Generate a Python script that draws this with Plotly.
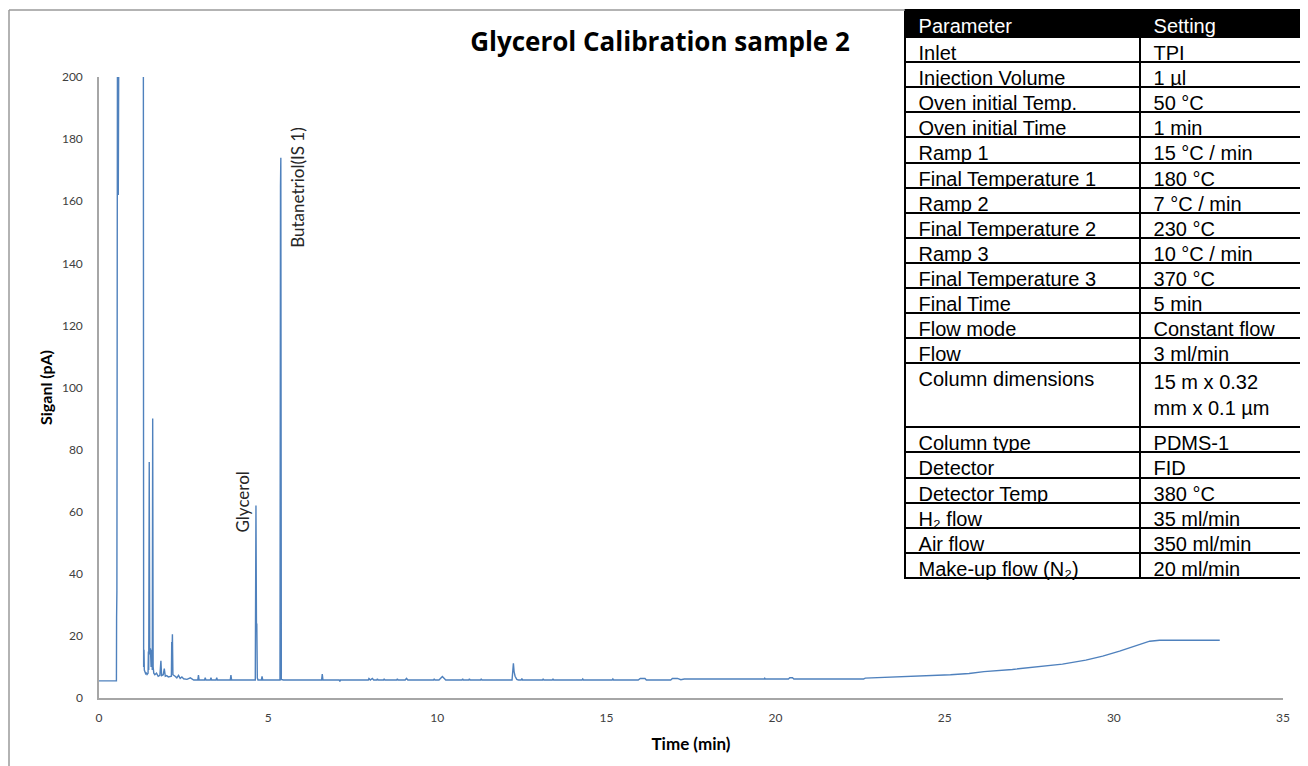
import plotly.graph_objects as go

# chromatogram (time in min, signal in pA; >200 is off-scale)
time_min = [
    0, 0.515, 0.52, 0.523, 0.526, 0.529, 0.55, 0.57, 0.59, 0.8, 1.1, 1.29,
    1.31, 1.315, 1.32, 1.33, 1.34, 1.36, 1.38, 1.40, 1.42, 1.45, 1.46, 1.47,
    1.485, 1.50, 1.52, 1.54, 1.56, 1.575, 1.587, 1.60, 1.62, 1.65, 1.70, 1.75,
    1.80, 1.83, 1.85, 1.90, 1.93, 1.96, 2.00, 2.05, 2.10, 2.14, 2.15, 2.16,
    2.17, 2.185, 2.25, 2.30, 2.35, 2.40, 2.45, 2.50, 2.60, 2.70, 2.80,
    2.92, 2.94, 2.96, 3.12, 3.14, 3.16, 3.29, 3.31, 3.33, 3.46, 3.48, 3.50,
    3.88, 3.90, 3.92, 4.62, 4.64, 4.655, 4.665, 4.68, 4.70, 4.80, 4.82, 4.84,
    5.35, 5.365, 5.375, 5.39, 5.45, 6.58, 6.60, 6.62, 7.10, 7.12, 7.14,
    7.96, 7.98, 8.02, 8.08, 8.12, 8.21, 8.23, 8.25, 8.41, 8.43, 8.45,
    8.80, 8.82, 8.84, 9.05, 9.09, 9.13, 9.89, 9.91, 9.93, 10.05, 10.15, 10.25,
    10.73, 10.75, 10.77, 10.93, 10.95, 10.97, 11.28, 11.30, 11.32,
    12.21, 12.23, 12.25, 12.27, 12.30, 12.35, 12.40, 12.48, 12.50, 12.52,
    13.11, 13.13, 13.15, 13.40, 13.42, 13.44, 14.28, 14.30, 14.32,
    15.17, 15.19, 15.21, 15.94, 16.00, 16.14, 16.18, 16.90, 16.95, 17.10,
    17.20, 17.30, 19.66, 19.68, 19.70, 20.38, 20.42, 20.50, 20.54,
    22.60, 22.65, 23.69, 24.53, 25.17, 25.72, 26.16, 27.00, 27.69, 28.48,
    29.17, 29.67, 30.17, 30.66, 31.06, 31.35, 33.13,
]
signal_pa = [
    5.5, 5.5, 26, 34, 27, 34.5, 260, 162, 300, 900, 900, 700,
    11.5, 16, 10, 15.5, 9, 8.5, 7.8, 8.0, 7.6, 8, 15, 9,
    76, 14, 16, 10, 15.5, 9, 90, 10, 8, 7.5, 8, 7,
    7.3, 12, 7.2, 7.5, 9.5, 7, 7.2, 6.8, 7, 7, 18, 15,
    20.5, 7.5, 7.0, 6.5, 7.3, 6.3, 6.8, 6.2, 6.0, 6.5, 5.8,
    5.8, 7.4, 5.8, 5.8, 6.5, 5.8, 5.8, 6.5, 5.8, 5.8, 6.5, 5.8,
    5.8, 7.4, 5.8, 5.8, 62, 22, 24, 6.5, 5.8, 5.8, 7.0, 5.8,
    5.8, 165, 174, 6, 5.8, 5.8, 7.7, 5.8, 5.8, 5.3, 5.8,
    5.8, 6.3, 5.8, 6.3, 5.8, 5.8, 6.2, 5.8, 5.8, 6.2, 5.8,
    5.8, 6.2, 5.8, 5.8, 6.3, 5.8, 5.8, 6.2, 5.8, 5.8, 6.9, 5.8,
    5.8, 6.2, 5.8, 5.8, 6.2, 5.8, 5.8, 6.2, 5.8,
    5.8, 8.0, 11.2, 8.5, 7.0, 6.0, 5.8, 5.8, 6.3, 5.8,
    5.8, 6.2, 5.8, 5.8, 6.2, 5.8, 5.8, 6.1, 5.8,
    5.8, 6.1, 5.8, 5.8, 6.3, 6.3, 5.8, 5.8, 6.3, 6.3,
    5.9, 6.1, 6.1, 6.4, 6.1, 6.1, 6.5, 6.5, 6.1,
    6.1, 6.4, 6.8, 7.2, 7.5, 7.9, 8.5, 9.2, 9.9, 10.9,
    12.2, 13.5, 15.1, 16.8, 18.3, 18.6, 18.6,
]

peak_names = ["Glycerol", "Butanetriol(IS 1)"]
peak_label_x = [4.23, 5.88]
peak_label_y = [63, 164.6]

parameters = [
    "Inlet", "Injection Volume", "Oven initial Temp.", "Oven initial Time",
    "Ramp 1", "Final Temperature 1", "Ramp 2", "Final Temperature 2",
    "Ramp 3", "Final Temperature 3", "Final Time", "Flow mode", "Flow",
    "Column dimensions", "Column type", "Detector", "Detector Temp",
    "H₂ flow", "Air flow", "Make-up flow (N₂)",
]
settings = [
    "TPI", "1 µl", "50 °C", "1 min", "15 °C / min", "180 °C", "7 °C / min",
    "230 °C", "10 °C / min", "370 °C", "5 min", "Constant flow", "3 ml/min",
    "15 m x 0.32<br>mm x 0.1 µm", "PDMS-1", "FID", "380 °C", "35 ml/min",
    "350 ml/min", "20 ml/min",
]

# the page puts the figure 8px in from the top left corner
W, H = 1300, 758
OFF = 8


def fx(px):
    return (px - OFF) / W


def fy(py):
    return 1 - (py - OFF) / H


pad = "\u00a0"  # a bit more left padding in the table cells

fig = go.Figure()

fig.add_trace(
    go.Scatter(
        x=time_min,
        y=signal_pa,
        mode="lines",
        line=dict(color="#4f81bd", width=1.4),
        showlegend=False,
        hoverinfo="x+y",
    )
)

for name, lx, ly in zip(peak_names, peak_label_x, peak_label_y):
    fig.add_annotation(
        x=lx, y=ly, text=name, textangle=-90, showarrow=False,
        font=dict(family="Lato", size=17, color="#262626"),
    )

fig.add_trace(
    go.Table(
        domain=dict(x=[fx(905), fx(1307)], y=[0, fy(10)]),
        columnwidth=[235, 167],
        header=dict(
            values=[pad + "Parameter", pad + "Setting"],
            fill_color="black",
            line=dict(color="black", width=2),
            align="left",
            height=27,
            font=dict(family="Liberation Sans", size=20, color="white"),
        ),
        cells=dict(
            values=[[pad + p for p in parameters],
                    [pad + s.replace("<br>", "<br>" + pad) for s in settings]],
            fill_color="white",
            line=dict(color="black", width=2),
            align="left",
            height=25.1,
            font=dict(family="Liberation Sans", size=20, color="black"),
        ),
    )
)

# chart area frame (left and top edges visible)
fig.add_shape(type="line", xref="paper", yref="paper",
              x0=fx(9), x1=fx(905), y0=fy(10), y1=fy(10),
              line=dict(color="#9a9a9a", width=1.5))
fig.add_shape(type="line", xref="paper", yref="paper",
              x0=fx(9), x1=fx(9), y0=0, y1=fy(10),
              line=dict(color="#9a9a9a", width=1.5))

fig.update_layout(
    width=W,
    height=H,
    autosize=False,
    margin=dict(l=0, r=0, t=0, b=0, autoexpand=False),
    paper_bgcolor="white",
    plot_bgcolor="white",
    title=dict(
        text="<b>Glycerol Calibration sample 2</b>",
        x=fx(660), xanchor="center",
        y=fy(42), yanchor="middle",
        font=dict(family="Open Sans", size=26, color="black"),
    ),
    xaxis=dict(
        domain=[fx(99), fx(1283)],
        range=[0, 35],
        dtick=5,
        showgrid=False,
        zeroline=False,
        showline=True,
        linecolor="#a6a6a6",
        linewidth=1.5,
        ticks="",
        ticklabelstandoff=8,
        tickfont=dict(family="Lato", size=12, color="#404040"),
        title=dict(text="<b>Time (min)</b>", standoff=14,
                   font=dict(family="Lato", size=17, color="black")),
    ),
    yaxis=dict(
        domain=[fy(698), fy(77)],
        range=[0, 200],
        dtick=20,
        showgrid=False,
        zeroline=False,
        showline=True,
        linecolor="#a6a6a6",
        linewidth=1.5,
        ticks="",
        ticklabelstandoff=12,
        tickfont=dict(family="Lato", size=12, color="#404040"),
        title=dict(text="<b>Siganl (pA)</b>", standoff=5,
                   font=dict(family="Lato", size=16, color="black")),
    ),
)

fig.write_html("out.html")
